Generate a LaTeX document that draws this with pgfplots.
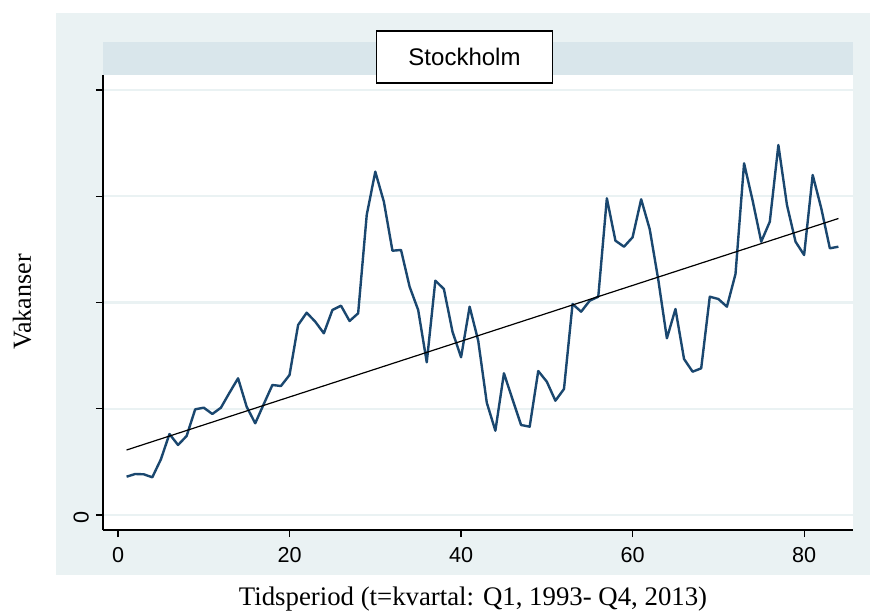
\documentclass[border=0pt]{standalone}
\usepackage{fontspec}
\setmainfont{Liberation Serif}
\newfontfamily\ticksf{Liberation Sans}
\usepackage{pgfplots}
\pgfplotsset{compat=1.18}
\definecolor{panel}{HTML}{EAF2F3}
\definecolor{strip}{HTML}{D9E6EB}
\definecolor{navy}{HTML}{1A476F}
\begin{document}
\begin{tikzpicture}
\path[use as bounding box] (-51.5bp,-42bp) rectangle (383.5bp,265bp);
\fill[panel] (-23.5bp,-22.5bp) rectangle (383.5bp,258.5bp);
\begin{axis}[
  at={(0,0)}, anchor=south west,
  scale only axis, width=375bp, height=227.5bp,
  xmin=-1.75, xmax=85.7, ymin=-15, ymax=440,
  axis x line*=bottom, axis y line*=left,
  axis background/.style={fill=white},
  axis line style={black, line width=0.7bp},
  xtick={0,20,40,60,80},
  ytick={0,106.25,212.5,318.75,425},
  yticklabels={0,,,,},
  tick align=outside,
  major tick length=3.5bp,
  tick style={black, line width=0.6bp},
  ymajorgrids,
  major grid style={panel, line width=1.2bp},
  tick label style={font=\fontsize{10.8bp}{12bp}\ticksf},
  /pgf/number format/assume math mode=true,
  xticklabel style={yshift=-1.5bp},
  yticklabel style={rotate=90, anchor=south, xshift=-1bp},
  clip=false,
]
\addplot[navy, line width=1.2bp, line join=round] coordinates {
(1,38.3) (2,41) (3,40.7) (4,37.7) (5,55.7) (6,81) (7,70) (8,79) (9,105.7) (10,107.3)
(11,101) (12,107.3) (13,122.3) (14,136.7) (15,108.3) (16,91.7) (17,111) (18,130) (19,129) (20,140)
(21,190) (22,202.3) (23,193.3) (24,181.7) (25,205) (26,209.3) (27,194) (28,201.7) (29,300) (30,343.3)
(31,313.3) (32,264.3) (33,265) (34,228.3) (35,205) (36,152.7) (37,234.3) (38,226) (39,183.3) (40,157.7)
(41,208.3) (42,174.3) (43,112.3) (44,84.3) (45,141.7) (46,115.7) (47,90) (48,88.3) (49,144) (50,133.3)
(51,114.3) (52,126) (53,211) (54,203.3) (55,214.3) (56,218.3) (57,316.7) (58,274.3) (59,268.3) (60,277.7)
(61,315.7) (62,285.7) (63,235) (64,176.7) (65,206) (66,156) (67,143.3) (68,146.7) (69,218.3) (70,216)
(71,208.3) (72,241) (73,351.7) (74,314.3) (75,273.3) (76,293.3) (77,370) (78,310) (79,273.3) (80,260)
(81,340) (82,306.7) (83,266.7) (84,268.3)
};
\addplot[black, line width=0.6bp] coordinates {(1,65) (84,296.5)};
\end{axis}
\fill[strip] (0,227.5bp) rectangle (375bp,244bp);
\node[draw=black, line width=0.8bp, fill=white, minimum width=88bp, minimum height=26bp, inner sep=0pt, font=\fontsize{12bp}{14bp}\ticksf] at (180.75bp,236.5bp) {Stockholm};
\node[font=\fontsize{13.4bp}{16bp}\selectfont] at (185bp,-34.5bp) {Tidsperiod (t=kvartal: Q1, 1993- Q4, 2013)};
\node[rotate=90, font=\fontsize{13bp}{15bp}\selectfont] at (-40.5bp,114bp) {Vakanser};
\end{tikzpicture}
\end{document}
